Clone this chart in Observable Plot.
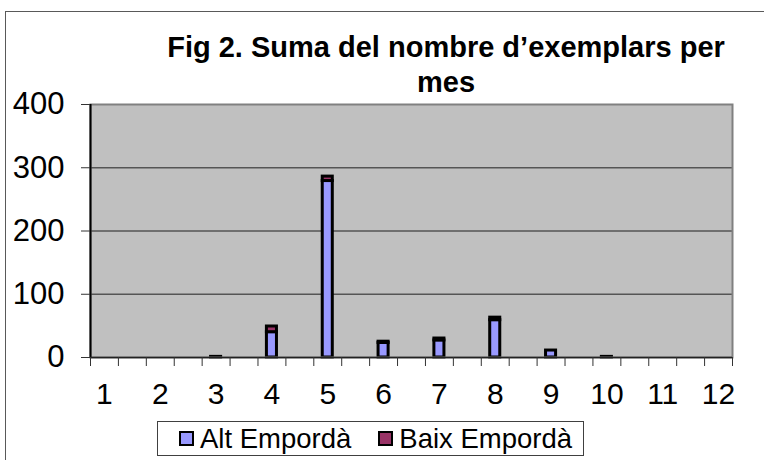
<!DOCTYPE html>
<html>
<head>
<meta charset="utf-8">
<script src="https://cdn.jsdelivr.net/npm/d3@7"></script>
<script src="https://cdn.jsdelivr.net/npm/@observablehq/plot@0.6"></script>
<style>
  html, body { margin: 0; padding: 0; background: #fff; }
  #wrap { position: relative; width: 764px; height: 460px; overflow: hidden; font-family: "Liberation Sans", Arial, sans-serif; }
  #outer { position: absolute; left: 5px; top: 11px; width: 900px; height: 600px; border-top: 1px solid #595959; border-left: 1px solid #595959; }
  #chart { position: absolute; left: 0; top: 0; }
  #title { position: absolute; left: 146px; top: 30px; width: 600px; text-align: center; font-weight: bold; font-size: 29px; line-height: 35px; color: #000; }
  #legend { position: absolute; left: 157px; top: 421px; width: 427px; height: 35px; border: 1px solid #404040; background: #fff; display: flex; align-items: center; padding-left: 21px; box-sizing: border-box; }
  .sw { width: 15px; height: 15px; box-sizing: border-box; border: 2px solid #000; margin-right: 6px; flex: none; }
  .lt { font-size: 27.5px; color: #000; margin-right: 27px; white-space: nowrap; }
</style>
</head>
<body>
<div id="wrap">
  <div id="outer"></div>
  <div id="chart"></div>
  <div id="title"></div>
  <div id="legend"></div>
</div>
<script>
// ---- data ----
const titleLines = ["Fig 2. Suma del nombre d\u2019exemplars per", "mes"];
const monthLabels = ["1","2","3","4","5","6","7","8","9","10","11","12"];
const seriesNames = ["Alt Empord\u00e0", "Baix Empord\u00e0"];
const seriesColors = ["#9999ff", "#993366"];
const altEmporda  = [0, 0, 1, 40, 279, 23, 27, 59, 11, 1, 0, 0];
const baixEmporda = [0, 0, 0,  9,   7,  2,  3,  4,  0, 0, 0, 0];
const yTicks = [0, 100, 200, 300, 400];
const slotCount = 23;        // category slots on the axis (a month every other slot)
const barHalf = 0.18;        // half bar width, in slot units

// ---- build table ----
const rows = [];
monthLabels.forEach((m, i) => {
  const slot = 2 * i;
  const a = altEmporda[i], b = baixEmporda[i];
  if (a > 0) rows.push({slot, series: seriesNames[0], y1: 0, y2: a});
  if (b > 0) rows.push({slot, series: seriesNames[1], y1: a, y2: a + b});
});
const labelPos = monthLabels.map((m, i) => 2 * i + 0.5);
const labelOf = new Map(labelPos.map((p, i) => [p, monthLabels[i]]));

const chart = Plot.plot({
  width: 764,
  height: 460,
  marginLeft: 90,
  marginRight: 32,
  marginTop: 104,
  marginBottom: 103,
  style: {fontFamily: "'Liberation Sans', Arial, sans-serif", background: "transparent", color: "#000"},
  x: {domain: [0, slotCount], axis: null},
  y: {domain: [0, 400], axis: null},
  color: {domain: seriesNames, range: seriesColors},
  marks: [
    Plot.frame({fill: "#c0c0c0", stroke: "none"}),
    Plot.ruleY(yTicks.filter(v => v > 0 && v < 400), {stroke: "#555", strokeWidth: 1.5}),
    Plot.rect(rows, {
      x1: d => d.slot + 0.5 - barHalf,
      x2: d => d.slot + 0.5 + barHalf,
      y1: "y1", y2: "y2",
      fill: "series",
      stroke: "#000",
      strokeWidth: 3
    }),
    Plot.frame({stroke: "#808080", strokeWidth: 2}),
    Plot.ruleX([0], {stroke: "#000", strokeWidth: 2}),
    Plot.ruleY([0], {stroke: "#222", strokeWidth: 1.5}),
    Plot.axisY({ticks: yTicks, tickSize: 9, tickPadding: 17, fontSize: 31, label: null, stroke: "#333", tickFormat: d => String(d)}),
    Plot.axisX({ticks: d3.range(slotCount + 1), tickSize: 9, label: null, stroke: "#333", tickFormat: () => ""}),
    Plot.axisX({ticks: labelPos, tickSize: 0, tickPadding: 25, fontSize: 30, label: null, tickFormat: d => labelOf.get(d)})
  ]
});
document.getElementById("chart").appendChild(chart);

// title
const t = document.getElementById("title");
titleLines.forEach((line, i) => {
  if (i) t.appendChild(document.createElement("br"));
  t.appendChild(document.createTextNode(line));
});

// legend
const lg = document.getElementById("legend");
seriesNames.forEach((name, i) => {
  const sw = document.createElement("span");
  sw.className = "sw";
  sw.style.background = seriesColors[i];
  const tx = document.createElement("span");
  tx.className = "lt";
  tx.textContent = name;
  lg.appendChild(sw);
  lg.appendChild(tx);
});
</script>
</body>
</html>
